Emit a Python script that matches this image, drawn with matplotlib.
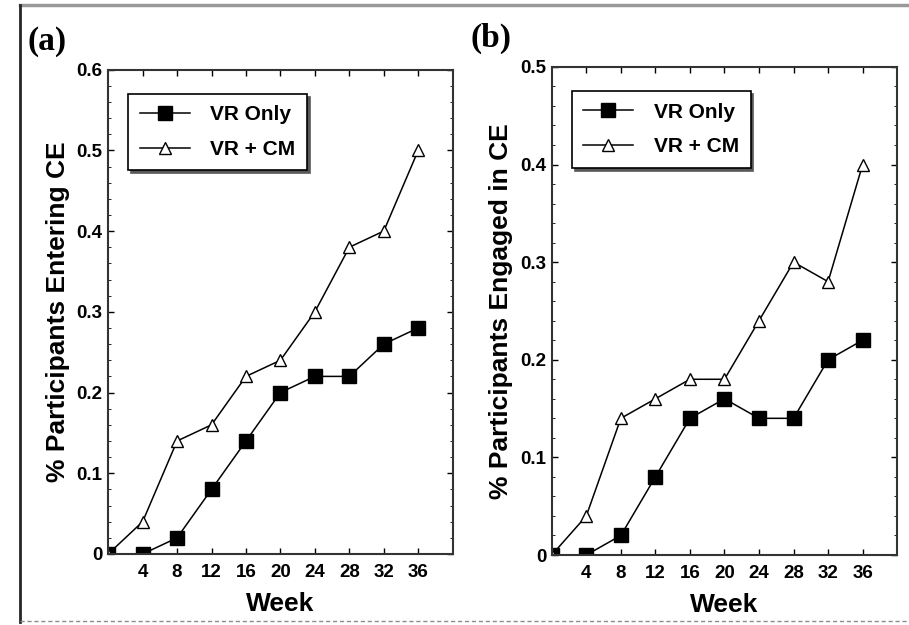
# Percent of participants entering / engaged in CE by week
import numpy as np
import matplotlib.pyplot as plt
from matplotlib.lines import Line2D
from matplotlib.ticker import MultipleLocator

plt.rcParams['font.family'] = ['Liberation Sans', 'DejaVu Sans']
plt.rcParams['font.weight'] = 'bold'

# ----- Data ----- #
weeks = [0, 4, 8, 12, 16, 20, 24, 28, 32, 36]

entering_vr_only = [0, 0, 0.02, 0.08, 0.14, 0.20, 0.22, 0.22, 0.26, 0.28]
entering_vr_cm = [0, 0.04, 0.14, 0.16, 0.22, 0.24, 0.30, 0.38, 0.40, 0.50]

engaged_vr_only = [0, 0, 0.02, 0.08, 0.14, 0.16, 0.14, 0.14, 0.20, 0.22]
engaged_vr_cm = [0, 0.04, 0.14, 0.16, 0.18, 0.18, 0.24, 0.30, 0.28, 0.40]

x_ticks = [4, 8, 12, 16, 20, 24, 28, 32, 36]
y_ticks_a = [0, 0.1, 0.2, 0.3, 0.4, 0.5, 0.6]
y_labels_a = ['0', '0.1', '0.2', '0.3', '0.4', '0.5', '0.6']
y_ticks_b = [0, 0.1, 0.2, 0.3, 0.4, 0.5]
y_labels_b = ['0', '0.1', '0.2', '0.3', '0.4', '0.5']

series_names = ['VR Only', 'VR + CM']

# ----- Figure ----- #
fig = plt.figure(figsize=(9.09, 6.25), dpi=100)

# outer frame of the original figure
fig.add_artist(Line2D([0.022, 1.0], [0.992, 0.992], color='0.6', lw=2.5))
fig.add_artist(Line2D([0.022, 0.022], [0.005, 0.992], color='0.15', lw=2))
fig.add_artist(Line2D([0.022, 1.0], [0.006, 0.006], color='0.55', lw=1, linestyle=(0, (3, 2))))

ax_a = fig.add_axes([0.119, 0.1136, 0.379, 0.775])
ax_b = fig.add_axes([0.607, 0.112, 0.380, 0.781])


def draw_panel(ax, only, cm, yticks, ylabels, ylabel, tag):
    ax.plot(weeks, only, color='black', lw=1.1, marker='s', markersize=10,
            markerfacecolor='black', markeredgecolor='black', label=series_names[0])
    ax.plot(weeks, cm, color='black', lw=1.1, marker='^', markersize=8.5,
            markerfacecolor='white', markeredgecolor='black', markeredgewidth=1,
            label=series_names[1])
    ax.set_xlim(0, 40)
    ax.set_ylim(yticks[0], yticks[-1])
    ax.set_xticks(x_ticks)
    ax.set_yticks(yticks)
    ax.set_yticklabels(ylabels)
    ax.yaxis.set_minor_locator(MultipleLocator(0.02))
    ax.tick_params(direction='in', top=True, right=True, length=4, width=1,
                   labelsize=13.5)
    ax.tick_params(axis='x', pad=7)
    ax.tick_params(axis='y', pad=4)
    ax.tick_params(which='minor', direction='in', left=True, right=True, length=2)
    for s in ax.spines.values():
        s.set_linewidth(1.5)
        s.set_color('0.2')
    ax.set_xlabel('Week', fontsize=19, fontweight='bold', labelpad=8)
    ax.set_ylabel(ylabel, fontsize=19, fontweight='bold', labelpad=5)
    leg = ax.legend(loc='upper left', bbox_to_anchor=(0.058, 0.95), borderaxespad=0,
                    fontsize=15, handlelength=2.4, handletextpad=1.0,
                    labelspacing=0.75, borderpad=0.55, fancybox=False,
                    shadow={'color': '0.35', 'alpha': 1}, framealpha=1)
    leg.get_frame().set_edgecolor('black')
    leg.get_frame().set_linewidth(1.2)
    ax.text(-0.235, 1.058, tag, transform=ax.transAxes, fontsize=24,
            fontweight='bold', family=['Liberation Serif', 'DejaVu Serif'],
            ha='left', va='center')


draw_panel(ax_a, entering_vr_only, entering_vr_cm, y_ticks_a, y_labels_a,
           '% Participants Entering CE', '(a)')
draw_panel(ax_b, engaged_vr_only, engaged_vr_cm, y_ticks_b, y_labels_b,
           '% Participants Engaged in CE', '(b)')

fig.savefig('out.png', dpi=100)
